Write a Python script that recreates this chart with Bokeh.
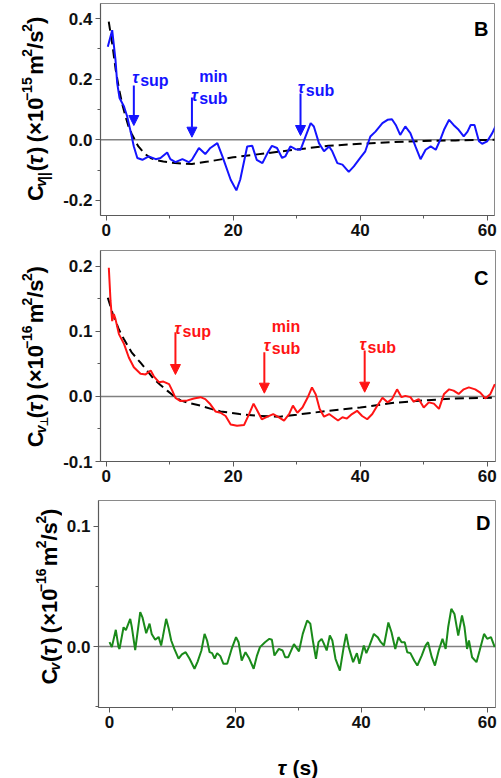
import math

from bokeh.embed import file_html
from bokeh.layouts import column, row
from bokeh.models import (Arrow, FixedTicker, Label, NormalHead,
                          PrintfTickFormatter, Range1d, Span)
from bokeh.plotting import figure
from bokeh.resources import INLINE

# ---------------------------------------------------------------- data
# Panel B: parallel velocity autocorrelation (x1e-15 m^2/s^2)
t_B = [0.25, 0.94, 1.46, 1.73, 2.1, 2.8, 3.3, 3.9, 4.35, 4.9,
       5.7, 6.7, 7.8, 8.55, 9.6, 10.1, 10.9, 12.0, 13.0, 13.5,
       14.6, 15.6, 16.4, 17.5, 18.3, 19.6, 20.5, 21.1, 22.2, 23.0,
       23.7, 24.6, 25.4, 26.1, 26.9, 27.7, 28.2, 29.0, 29.8, 30.6,
       31.4, 32.2, 32.7, 33.5, 34.3, 35.1, 35.6, 36.4, 37.2, 38.2,
       39.0, 40.0, 40.8, 41.6, 42.4, 43.5, 44.3, 45.0, 45.6, 46.3,
       47.1, 47.9, 48.7, 49.5, 50.3, 51.1, 51.9, 52.6, 53.2, 54.0,
       54.7, 55.5, 56.3, 56.9, 57.4, 58.0, 58.7, 59.2, 60.0, 60.8,
       61.3]
c_B = [0.307, 0.362, 0.264, 0.187, 0.138, 0.11, 0.077, 0.022, -0.022, -0.06,
       -0.066, -0.055, -0.064, -0.06, -0.042, -0.064, -0.074, -0.064, -0.074, -0.066,
       -0.027, -0.047, -0.027, -0.011, -0.055, -0.132, -0.167, -0.132, -0.022, -0.02,
       -0.066, -0.077, -0.044, -0.02, -0.027, -0.06, -0.055, -0.022, -0.031, -0.033,
       0.011, 0.055, 0.044, -0.011, -0.038, -0.022, -0.038, -0.077, -0.082, -0.106,
       -0.088, -0.06, -0.038, 0.011, 0.027, 0.055, 0.066, 0.068, 0.049, 0.016,
       0.044, 0.022, -0.022, -0.064, -0.033, -0.022, -0.033, 0.0, 0.033, 0.066,
       0.049, 0.033, 0.011, 0.027, 0.049, 0.049, -0.005, -0.013, -0.005, 0.022,
       0.044]
tfit_B = [0.4, 1, 1.5, 2, 2.5, 3, 3.5, 4, 4.5, 5,
          6, 7, 8, 9, 10, 12, 13.5, 16, 20, 25,
          30, 35, 40, 45, 50, 55, 61.2]
cfit_B = [0.39, 0.31, 0.23, 0.17, 0.12, 0.08, 0.045, 0.02, 0.0, -0.02,
          -0.045, -0.06, -0.068, -0.072, -0.075, -0.079, -0.08, -0.072, -0.058, -0.045,
          -0.032, -0.02, -0.013, -0.008, -0.004, -0.002, 0.0]
tau_B = [4.35, 13.5, 30.6]          # tau_sup, tau_sub^min, tau_sub

# Panel C: perpendicular velocity autocorrelation (x1e-16 m^2/s^2)
t_C = [0.41, 0.68, 0.94, 1.2, 1.46, 2.0, 2.8, 3.56, 4.35, 5.4,
       6.2, 7.0, 7.5, 8.3, 9.0, 9.9, 10.4, 10.9, 11.7, 12.8,
       13.8, 14.85, 15.6, 16.4, 17.2, 18.0, 18.8, 19.6, 20.6, 21.7,
       22.5, 23.2, 23.8, 24.5, 25.4, 26.3, 27.2, 28.0, 28.8, 29.4,
       30.1, 30.9, 31.7, 32.4, 33.0, 33.6, 34.3, 35.1, 35.8, 36.5,
       37.2, 37.9, 38.7, 39.5, 40.3, 41.1, 41.9, 42.7, 43.5, 44.3,
       45.0, 45.8, 46.5, 47.1, 47.9, 48.4, 49.2, 50.0, 50.8, 51.6,
       52.4, 53.2, 54.0, 54.7, 55.5, 56.3, 57.1, 58.1, 58.9, 59.7,
       60.5, 61.2]
c_C = [0.198, 0.147, 0.116, 0.127, 0.119, 0.096, 0.081, 0.06, 0.045, 0.035,
       0.034, 0.04, 0.031, 0.022, 0.023, 0.019, 0.009, -0.002, -0.007, -0.006,
       -0.003, -0.001, -0.004, -0.012, -0.023, -0.025, -0.03, -0.043, -0.045, -0.044,
       -0.027, -0.011, -0.022, -0.035, -0.031, -0.027, -0.032, -0.037, -0.027, -0.014,
       -0.025, -0.017, -0.002, 0.014, 0.003, -0.019, -0.031, -0.027, -0.032, -0.037,
       -0.032, -0.034, -0.027, -0.022, -0.03, -0.035, -0.027, -0.014, -0.002, -0.009,
       -0.004, 0.011, -0.001, 0.001, -0.001, -0.008, -0.004, -0.017, -0.009, -0.011,
       -0.019, 0.004, 0.011, 0.009, 0.004, 0.011, 0.014, 0.011, 0.006, -0.003,
       0.004, 0.019]
tfit_C = [0.25, 1, 2, 2.8, 4, 5.4, 6.5, 7.5, 8.5, 9.6,
          10.5, 11.7, 13, 14.85, 16.5, 18, 21, 24, 27.4, 30,
          32.5, 35, 40, 45, 50, 55, 61.3]
cfit_C = [0.152, 0.128, 0.103, 0.088, 0.068, 0.052, 0.039, 0.027, 0.018, 0.009,
          0.002, -0.006, -0.010, -0.014, -0.019, -0.023, -0.027, -0.030, -0.031, -0.028,
          -0.025, -0.022, -0.017, -0.010, -0.006, -0.003, -0.002]
tau_C = [10.9, 24.9, 40.7]

# Panel D: velocity autocorrelation of the control (x1e-16 m^2/s^2)
t_D = [0.0, 0.37, 1.0, 1.43, 1.59, 2.23, 2.6, 3.29, 3.55, 4.08,
       4.88, 5.25, 5.83, 6.36, 6.7, 7.26, 7.8, 8.2, 8.47, 9.0,
       9.4, 9.8, 10.3, 10.97, 11.5, 12.1, 12.7, 13.5, 14.0, 14.6,
       15.1, 15.5, 15.9, 16.3, 16.7, 17.1, 17.6, 18.1, 18.7, 19.4,
       20.1, 20.5, 21.0, 21.6, 22.2, 22.9, 23.4, 23.9, 24.7, 25.4,
       25.8, 26.2, 26.9, 27.5, 27.9, 28.4, 29.3, 30.1, 30.7, 31.4,
       31.9, 32.3, 32.8, 33.2, 33.7, 34.0, 34.5, 35.0, 35.4, 35.9,
       36.6, 37.2, 37.6, 38.0, 38.7, 39.3, 39.7, 40.4, 40.8, 41.3,
       42.0, 42.6, 43.1, 43.6, 44.3, 44.8, 45.4, 45.9, 46.4, 46.9,
       47.3, 47.8, 48.4, 48.9, 49.6, 50.2, 50.6, 51.2, 51.7, 52.3,
       52.9, 53.4, 53.8, 54.3, 54.8, 55.4, 56.0, 56.4, 56.8, 57.1,
       57.6, 58.3, 58.8, 59.5, 60.0, 60.6, 61.2]
c_D = [0.0036, -0.0005, 0.0139, -0.0005, -0.002, 0.016, 0.0136, 0.023, 0.016, -0.003,
       0.0285, 0.024, 0.011, 0.019, 0.0105, 0.0056, 0.008, 0.0008, 0.008, 0.023,
       0.015, 0.005, -0.002, -0.010, -0.0066, -0.0047, -0.010, -0.0185, -0.0125, -0.0033,
       0.0105, 0.005, -0.0047, -0.0055, -0.010, -0.0055, -0.008, -0.0144, -0.0144, -0.002,
       0.0078, 0.0036, -0.0116, -0.0047, -0.010, -0.0185, -0.008, -0.0005, 0.0036, 0.0064,
       0.0056, -0.0075, -0.002, -0.0033, -0.0089, -0.0089, 0.002, -0.004, 0.0105, 0.0216,
       0.019, 0.005, -0.0102, 0.0036, 0.0064, 0.003, -0.0033, 0.0091, 0.005, -0.0102,
       -0.020, -0.0005, 0.0105, -0.0005, -0.013, -0.0055, -0.0144, 0.0008, -0.0055, 0.0008,
       0.0105, 0.0078, 0.0036, 0.0008, 0.020, 0.0119, -0.002, 0.0078, 0.0036, 0.0036,
       -0.0047, -0.0055, -0.0116, -0.0158, -0.0075, 0.0008, 0.0036, -0.0089, -0.0158, -0.0033,
       0.0064, -0.002, 0.016, 0.0313, 0.027, 0.0091, 0.0258, 0.016, -0.002, 0.005,
       -0.0089, -0.013, -0.0033, 0.0105, 0.0064, 0.0078, -0.0005]

x_ticks = [0, 20, 40, 60]
x_minor = [10, 30, 50]

# ---------------------------------------------------------------- style
FONT = "Liberation Sans"
SYMF = "DejaVu Sans"
BLUE = "#1414ff"
RED = "#ff1414"
GREEN = "#1a8a1a"
AXIS = "#5a5a5a"
W = 501

# approximate advance widths (em) of the bold sans face, used to chain text pieces
ADV = {"C": .722, "v": .556, "|": .280, "(": .333, ")": .333, " ": .278,
       "×": .584, "1": .556, "0": .556, "-": .333, "−": .584, "5": .556,
       "6": .556, "m": .889, "2": .556, "/": .278, "s": .556, "τ": .56,
       "⊥": .70}


def text_width(text, size):
    return sum(ADV.get(ch, .6) for ch in text) * size * 1.03


def make_label(x, y, txt, size, style="bold", color="black", font=FONT,
               align="left", angle=0.0):
    return Label(x=x, y=y, text=txt, x_units="data", y_units="data", angle=angle,
                 text_font=font, text_font_style=style,
                 text_font_size=f"{size}px", text_color=color,
                 text_align=align, text_baseline="alphabetic")


class TextStrip:
    """Plain canvas whose data coordinates are pixels (y measured downward)."""

    def __init__(self, width, height):
        p = figure(width=width, height=height,
                   x_range=Range1d(0, width), y_range=Range1d(height, 0),
                   x_axis_type=None, y_axis_type=None,
                   output_backend="svg", toolbar_location=None,
                   min_border=0, min_border_left=0, min_border_right=0,
                   min_border_top=0, min_border_bottom=0)
        p.outline_line_color = None
        p.background_fill_color = "white"
        p.border_fill_color = "white"
        p.grid.visible = False
        self.p = p

    def text(self, txt, px, py, size, **kw):
        self.p.add_layout(make_label(px, py, txt, size, **kw))

    def ylabel(self, pieces, base_px, start_py):
        """Vertical axis title built from pieces (text, size, shift, style, font, gap)."""
        py = start_py
        for txt, size, shift, style, font, gap in pieces:
            py -= gap
            self.text(txt, base_px + shift, py, size, style=style, font=font,
                      angle=math.pi / 2)
            py -= text_width(txt, size)


class Panel:
    def __init__(self, offset, height, left, right, top, bottom, xr, yr,
                 yticks, yminor):
        # left/right are canvas columns of the frame, offset is where this figure starts
        self.offset = offset
        self.left, self.right, self.top, self.bottom = left, right, top, bottom
        self.xr, self.yr = xr, yr
        p = figure(width=W - offset, height=height,
                   x_range=Range1d(*xr), y_range=Range1d(*yr),
                   output_backend="svg", toolbar_location=None,
                   min_border_left=left - offset, min_border_right=W - right,
                   min_border_top=top, min_border_bottom=height - bottom)
        p.background_fill_color = "white"
        p.border_fill_color = "white"
        p.outline_line_color = "#8a8a8a"
        p.outline_line_width = 1
        p.grid.visible = False
        p.xaxis.ticker = FixedTicker(ticks=x_ticks, minor_ticks=x_minor)
        p.xaxis.formatter = PrintfTickFormatter(format="%d")
        p.yaxis.ticker = FixedTicker(ticks=yticks, minor_ticks=yminor)
        p.yaxis.formatter = PrintfTickFormatter(format="%.1f")
        for ax in (p.xaxis, p.yaxis):
            ax.axis_line_color = AXIS
            ax.axis_line_width = 1.2
            ax.major_tick_line_color = AXIS
            ax.minor_tick_line_color = AXIS
            ax.major_tick_out = 5
            ax.major_tick_in = 0
            ax.minor_tick_out = 3
            ax.minor_tick_in = 0
            ax.major_label_text_font = FONT
            ax.major_label_text_font_style = "bold"
            ax.major_label_text_font_size = "17px"
            ax.major_label_text_color = "#111111"
            ax.major_label_standoff = 3
        p.add_layout(Span(location=0, dimension="width", line_color="#808080",
                          line_width=1.5, level="underlay"))
        self.p = p

    def x(self, px):
        return self.xr[0] + (px - self.left) / (self.right - self.left) * (self.xr[1] - self.xr[0])

    def y(self, py):
        return self.yr[1] - (py - self.top) / (self.bottom - self.top) * (self.yr[1] - self.yr[0])

    def text(self, txt, px, py, size, **kw):
        self.p.add_layout(make_label(self.x(px), self.y(py), txt, size, **kw))

    def tau_mark(self, tau, top_py, tip_py, color, sub, label_px, label_py,
                 with_min=False):
        self.p.add_layout(Arrow(end=NormalHead(size=10, fill_color=color,
                                               line_color=color, line_width=1),
                                x_start=tau, y_start=self.y(top_py),
                                x_end=tau, y_end=self.y(tip_py),
                                line_color=color, line_width=2))
        self.text("τ", label_px, label_py, 16, style="bold italic", color=color)
        self.text(sub, label_px + 8, label_py + 3, 16, color=color)
        if with_min:
            self.text("min", label_px + 8, label_py - 19, 16, color=color)


def unit_pieces(sub_parts, exp):
    big, small = 22, 14
    return [("C", big, 0, "bold", FONT, 0)] + sub_parts + [
        ("(", big, 0, "bold", FONT, 2),
        ("τ", big, 0, "bold italic", FONT, 0),
        (")", big, 0, "bold", FONT, 0),
        ("(×10", big, 0, "bold", FONT, 0.278 * big),
        (exp, small, -9, "bold", FONT, 2),
        ("m", big, 0, "bold", FONT, 0.278 * big),
        ("2", small, -9, "bold", FONT, 1),
        ("/s", big, 0, "bold", FONT, 1),
        ("2", small, -9, "bold", FONT, 1),
        (")", big, 0, "bold", FONT, 1),
    ]


# ---------------------------------------------------------------- panel B
SB = TextStrip(60, 247)
B = Panel(60, 247, 100, 494, 3, 215, (-0.9, 61.15), (-0.25, 0.45),
          [-0.2, 0.0, 0.2, 0.4], [-0.1, 0.1, 0.3])
B.p.line(tfit_B, cfit_B, line_color="black", line_width=2, line_dash="9 5")
B.p.line(t_B, c_B, line_color=BLUE, line_width=2)
B.tau_mark(tau_B[0], 85, 125, BLUE, "sup", 131.7, 77.3)
B.tau_mark(tau_B[1], 97, 136.7, BLUE, "sub", 190.7, 95, with_min=True)
B.tau_mark(tau_B[2], 93, 135, BLUE, "sub", 297.3, 87)
B.text("B", 488, 28, 20, align="right")
SB.ylabel(unit_pieces([("v", 14, 5, "bold italic", FONT, 0),
                       ("||", 14, 8, "bold", FONT, 0)], "−15"), 35, 230)

# ---------------------------------------------------------------- panel C
SC = TextStrip(60, 250)
C = Panel(60, 250, 100, 495, 3, 214, (-0.9, 61.3), (-0.1, 0.2246),
          [-0.1, 0.0, 0.1, 0.2], [-0.05, 0.05, 0.15])
C.p.line(tfit_C, cfit_C, line_color="black", line_width=2, line_dash="9 5")
C.p.line(t_C, c_C, line_color=RED, line_width=2)
C.tau_mark(tau_C[0], 84.7, 127, RED, "sup", 174, 81)
C.tau_mark(tau_C[1], 104.7, 145.7, RED, "sub", 263.3, 98, with_min=True)
C.tau_mark(tau_C[2], 103, 144.7, RED, "sub", 359, 97)
C.text("C", 488, 30, 20, align="right")
SC.ylabel(unit_pieces([("v", 14, 5, "bold italic", FONT, 0),
                       ("⊥", 11, 9, "bold", SYMF, 0)], "−16"), 35, 233)

# ---------------------------------------------------------------- panel D
SD = TextStrip(62, 243)
D = Panel(62, 243, 98, 495, 3, 210, (-1.75, 61.32), (-0.0507, 0.1214),
          [0.0, 0.1], [-0.05, 0.05])
D.p.line(t_D, c_D, line_color=GREEN, line_width=2)
D.text("D", 490, 25, 20, align="right")
SD.ylabel(unit_pieces([("v", 14, 5, "bold italic", FONT, 0)], "−16"), 49, 216)

# x-axis title under the bottom panel
ST = TextStrip(W, 38)
ST.text("τ", 277, 27, 21, style="bold italic")
ST.text("(s)", 292, 27, 21)

layout = column(row(SB.p, B.p, spacing=0),
                row(SC.p, C.p, spacing=0),
                row(SD.p, D.p, spacing=0),
                ST.p, spacing=0)
open("out.html", "w").write(file_html(layout, INLINE))
